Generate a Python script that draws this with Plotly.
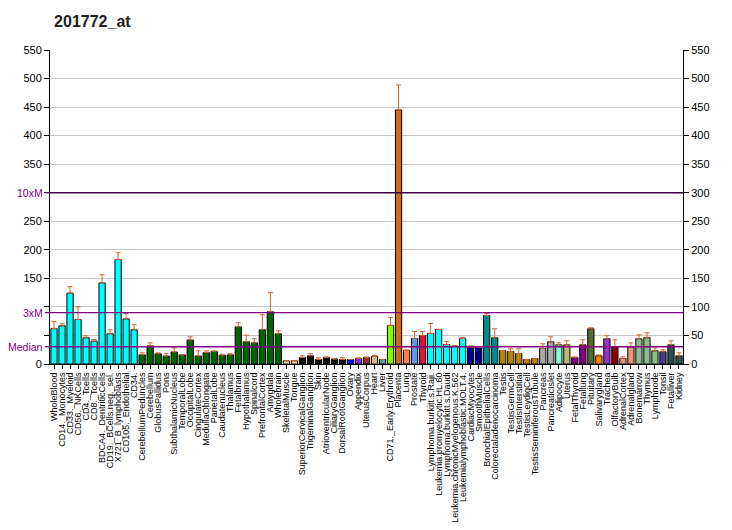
import plotly.graph_objects as go

title = "201772_at"
categories = [
    "WholeBlood", "CD14._Monocytes", "CD33._Myeloid", "CD56._NKCells", "CD4._Tcells", "CD8._Tcells",
    "BDCA4._DentriticCells", "CD19._BCells.neg._sel.", "X721_B_lymphoblasts", "CD105._Endothelial", "CD34.",
    "CerebellumPeduncles", "Cerebellum", "GlobusPallidus", "Pons", "SubthalamicNucleus", "TemporalLobe",
    "OccipitalLobe", "CingulateCortex", "MedullaOblongata", "ParietalLobe", "Caudatenucleus", "Thalamus",
    "Fetalbrain", "Hypothalamus", "Spinalcord", "PrefrontalCortex", "Amygdala", "Wholebrain",
    "SkeletalMuscle", "Tongue", "SuperiorCervicalGanglion", "TrigeminalGanglion", "Skin",
    "AtrioventricularNode", "CiliaryGanglion", "DorsalRootGanglion", "Ovary", "Appendix", "UterusCorpus",
    "Heart", "Liver", "CD71._Early.Erythroid", "Placenta", "Lung", "Prostate", "Thyroid",
    "Lymphoma.burkitt.s.Raji.", "Leukemia.promyelocytic.HL.60", "Lymphoma.burkitt.s.Daudi",
    "Leukemia.chronicMyelogenous.K.562", "Leukemialymphoblastic.MOLT.4.", "CardiacMyocytes",
    "SmoothMuscle", "BronchialEpithelialCells", "Colorectaladenocarcinoma", "Testis", "TestisGermCell",
    "TestisInterstitial", "TestisLeydigCell", "TestisSeminiferousTubule", "Pancreas", "PancreaticIslet",
    "Adipocyte", "Uterus", "FetalThyroid", "Fetallung", "Pituitary", "Salivarygland", "Trachea",
    "OlfactoryBulb", "AdrenalCortex", "Adrenalgland", "Bonemarrow", "Thymus", "Lymphnode", "Tonsil",
    "Fetalliver", "Kidney",
]
values = [
    62, 67, 124, 78, 46, 40, 142, 53, 183, 79, 60,
    16, 32, 18, 14, 21, 16, 42, 14, 20, 22, 15.5, 16,
    65, 39, 37, 60, 91.5, 53,
    5.6, 5.6, 11.4, 14.3, 7.9, 11.4, 8.5, 7.9, 7.9, 9.6, 11.4,
    13.2, 7.9, 67.5, 445, 23.7, 44.7, 50,
    53.5, 60.5, 34.2, 31.3, 44.7, 29.5, 29.5, 85, 46,
    23.7, 21.9, 18.4, 7.9, 9.6, 27.2, 38.9, 33.6, 33.6, 11.4, 33.6, 61.7, 14.3, 44.2,
    30.1, 9.6, 30.1, 44.2, 46, 23, 21.4, 33.6, 14.3,
]
err_tops = [
    74.6, 70.5, 135.4, 100, 49.5, 43, 156.4, 60, 195, 88.6, 68.8,
    19.6, 37, 19.6, 18, 28.4, 16, 47.7, 23, 23, 23, 17, 18,
    72.3, 50.6, 44.2, 86.3, 124.9, 58.2,
    5.6, 5.6, 14.3, 17.9, 10.8, 12.5, 9.6, 10.8, 7.9, 10.8, 12.5,
    15, 7.9, 81.6, 488.6, 24.8, 57, 57,
    71, 60.5, 39.5, 32, 46.5, 32, 29.5, 88.6, 61.7,
    23.7, 26.6, 26.6, 7.9, 9.6, 35.4, 47.7, 37.1, 40.6, 12.5, 42.4, 63.5, 16, 49.5,
    42.4, 12.5, 37.1, 51.2, 54.8, 28.4, 24.9, 40.6, 19.6,
]
colors = (
    ["#00FFFF"] * 11 + ["#006400"] * 18 + ["#FFE4C4"] * 2 + ["#000000"] * 6 +
    ["#0000FF", "#8A2BE2", "#A52A2A", "#DEB887", "#5F9EA0", "#7FFF00", "#D2691E", "#FF7F50",
     "#6495ED", "#DC143C"] +
    ["#00FFFF"] * 5 + ["#00008B"] * 2 + ["#008B8B"] * 2 + ["#B8860B"] * 5 + ["#A9A9A9"] * 2 +
    ["#7FFFD4", "#BDB76B", "#8B008B", "#800080", "#556B2F", "#FF8C00", "#9932CC", "#8B0000",
     "#E9967A", "#E9967A", "#8FBC8F", "#8FBC8F", "#8FBC8F", "#483D8B", "#2F4F4F", "#2F4F4F"]
)
median_val = 30.2
x3m_val = 90
x10m_val = 300
y_ticks = [0, 50, 100, 150, 200, 250, 300, 350, 400, 450, 500, 550]
left_tick_text = ["0", "", "", "150", "200", "250", "", "350", "400", "450", "500", "550"]

xs = list(range(len(categories)))
fig = go.Figure()
fig.add_trace(go.Bar(
    x=xs, y=values, marker=dict(color=colors, line=dict(color="black", width=1)),
    error_y=dict(type="data", symmetric=False,
                 array=[max(e - v, 0) for e, v in zip(err_tops, values)],
                 arrayminus=[0] * len(values), color="#CC6633", thickness=1, width=2.5),
    showlegend=False, hoverinfo="skip",
))
fig.add_trace(go.Scatter(x=[0], y=[0], yaxis="y2", mode="markers",
                         marker=dict(opacity=0), showlegend=False, hoverinfo="skip"))

purple = "#800080"
for val, col in [(median_val, purple), (x3m_val, purple), (x10m_val, "#3A003A")]:
    fig.add_shape(type="line", xref="paper", yref="y", x0=0, x1=1, y0=val, y1=val,
                  line=dict(color=col, width=1.3), layer="above")
for val, lab in [(median_val, "Median"), (x3m_val, "3xM"), (x10m_val, "10xM")]:
    fig.add_annotation(xref="paper", yref="y", x=0, y=val, text=lab, showarrow=False,
                       xanchor="right", xshift=-5, font=dict(color=purple, size=10.5,
                       family="Liberation Sans, Arial"))
    fig.add_shape(type="line", xref="paper", yref="y", x0=-0.008, x1=0, y0=val, y1=val,
                  line=dict(color=purple, width=1.3))

fig.update_layout(
    width=732, height=530,
    margin=dict(l=42, r=57, t=42, b=174, autoexpand=False),
    paper_bgcolor="white", plot_bgcolor="white",
    bargap=0.22,
    title=dict(text="<b>" + title + "</b>", xref="container", x=0.063, xanchor="left",
               yref="container", y=0.974, yanchor="middle", pad=dict(l=0, t=0, b=0, r=0),
               font=dict(family="Liberation Sans, Arial", size=16, color="#222")),
    font=dict(family="Liberation Sans, Arial", color="black"),
    xaxis=dict(range=[-0.5, len(categories) - 0.5], tickmode="array", tickvals=xs,
               ticktext=categories, tickangle=-90, tickfont=dict(size=9), automargin=False,
               ticks="outside", ticklen=4, tickcolor="black", showgrid=False,
               showline=True, linecolor="black", linewidth=1, zeroline=False),
    yaxis=dict(range=[0, 550], tickmode="array", tickvals=y_ticks, ticktext=left_tick_text,
               ticks="outside", ticklen=5, tickcolor="black", showgrid=True, automargin=False,
               gridcolor="#C8C8C8", gridwidth=1, showline=True, linecolor="black",
               linewidth=1, zeroline=False, tickfont=dict(size=11)),
    yaxis2=dict(range=[0, 550], overlaying="y", side="right", tickmode="array",
                tickvals=y_ticks, ticks="outside", ticklen=5, tickcolor="black", automargin=False,
                showgrid=False, showline=True, linecolor="black", linewidth=1,
                zeroline=False, tickfont=dict(size=11)),
)
fig.write_html("out.html")
